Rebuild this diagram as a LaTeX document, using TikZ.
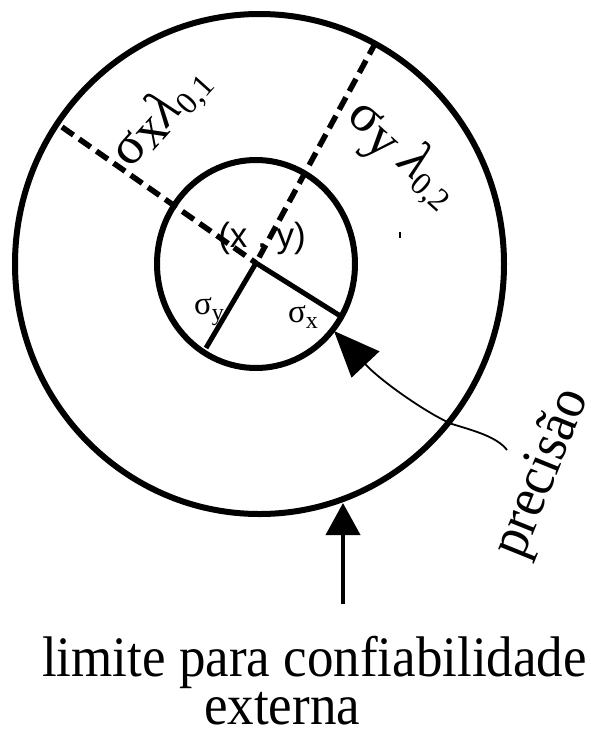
\documentclass[tikz,border=0pt]{standalone}
\usepackage{fontspec}
\setmainfont{Liberation Serif}
\newfontfamily\sansf{Liberation Sans}
\usetikzlibrary{arrows.meta}
\begin{document}
\begin{tikzpicture}[x=1pt,y=-1pt,
  ring/.style={line width=6pt},
  radline/.style={line width=5pt},
  dashaxis/.style={line width=5.5pt, dash pattern=on 14pt off 7pt},
  biglbl/.style={inner sep=0pt, font=\fontsize{54}{60}\selectfont},
  smalllbl/.style={inner sep=0pt, font=\fontsize{33}{36}\selectfont},
  bigtext/.style={inner sep=0pt, font=\fontsize{53}{60}\selectfont}]
\useasboundingbox (0,0) rectangle (590,734);
% circles
\draw[ring] (259.5,264) ellipse [x radius=244.5, y radius=250];
\draw[ring] (256,264) ellipse [x radius=99, y radius=104];
% axes
\coordinate (c) at (256,263);
\coordinate (ex) at (342,317);
\coordinate (ey) at (206,348);
\coordinate (dx) at (62,127);
\coordinate (dy) at (376,42);
\draw[dashaxis] (dx) -- (c);
\draw[dashaxis] (dy) -- (c);
\draw[radline] (c) -- (ex);
\draw[radline] (c) -- (ey);
% labels
\node[biglbl, rotate=48] (l1) at (161,117) {σ\raisebox{-5pt}{x}\textit{λ}\raisebox{-8pt}{\fontsize{32}{34}\selectfont 0,1}};
\node[biglbl, rotate=-42] (l2) at (401,156) {σ\raisebox{-7pt}{y} \textit{λ}\raisebox{-8pt}{\fontsize{32}{34}\selectfont 0,2}};
\node[inner sep=0pt, font=\sansf\fontsize{35}{40}\selectfont] (xy) at (262,238) {(x , y)};
\node[smalllbl] (sy) at (209,312) {σ\raisebox{-6pt}{\fontsize{24}{26}\selectfont y}};
\node[smalllbl] (sx) at (303,317) {σ\raisebox{-6pt}{\fontsize{24}{26}\selectfont x}};
\draw[line width=1.2pt] (400,232) -- (400,238);
% bottom text
\node[bigtext, anchor=base west] (lim) at (42,676) {\scalebox{1}[1.08]{limite para confiabilidade}};
\node[bigtext, anchor=base west] (ext) at (204,724) {\scalebox{1}[1.08]{externa}};
\node[bigtext, rotate=68] (prec) at (543,474) {\scalebox{1}[1.08]{precisão}};
% arrows
\coordinate (ltip) at (343,503);
\coordinate (lend) at (343,604);
\draw[line width=4pt, -{Triangle[length=32pt,width=34pt]}] (lend) -- (ltip);
\coordinate (ptip) at (334,331);
\coordinate (pend) at (507,450);
\draw[line width=1.8pt, -{Triangle[length=46pt,width=38pt]}] (pend) .. controls (497,437) and (475,431) .. (452,424) .. controls (428,414) and (382,382) .. (ptip);
\end{tikzpicture}
\end{document}
